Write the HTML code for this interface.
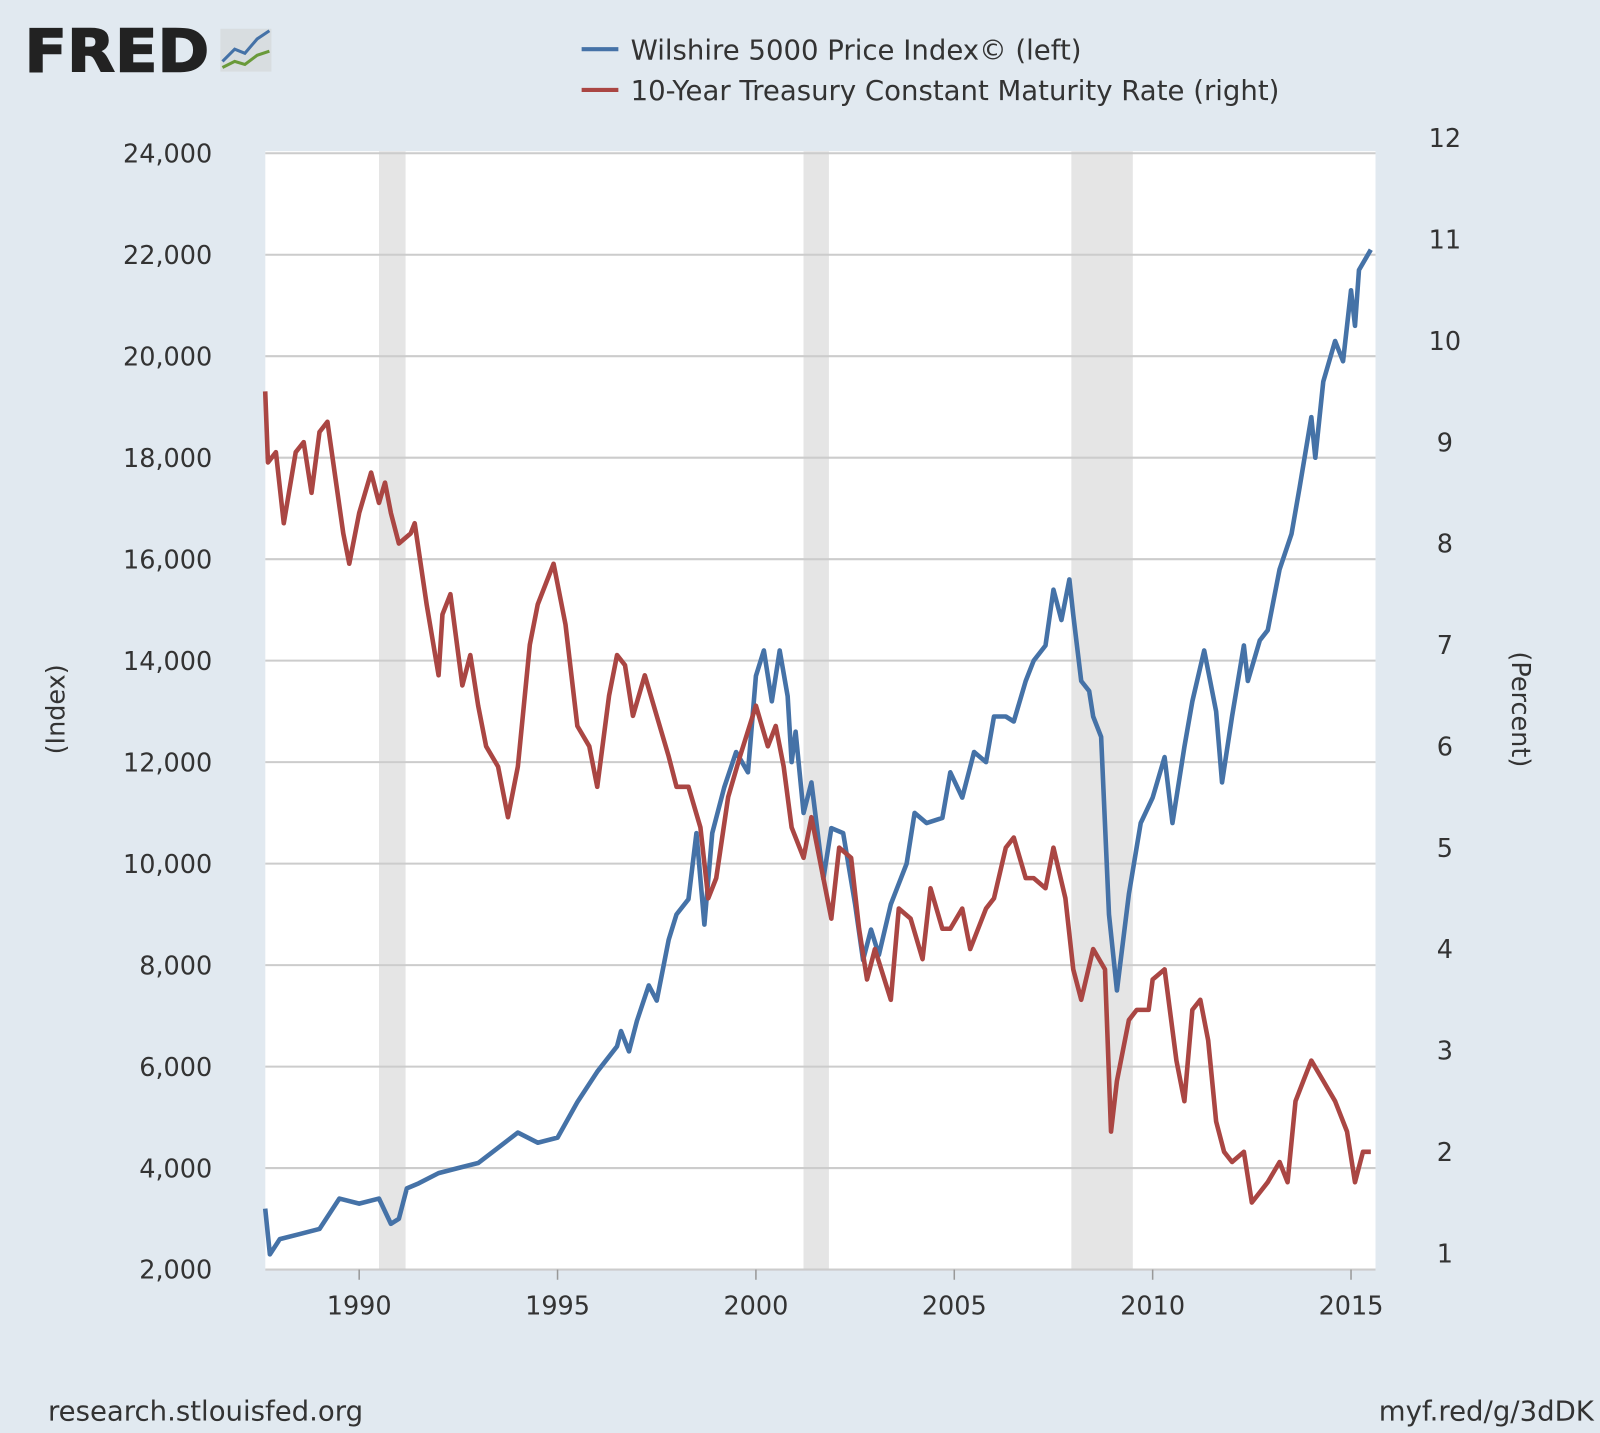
<!DOCTYPE html>
<html><head><meta charset="utf-8"><style>
html,body{margin:0;padding:0;background:#e1e9f0;}
svg{display:block;font-family:"DejaVu Sans","Liberation Sans",sans-serif;}
</style></head><body>
<svg id="chart" width="1600" height="1433" viewBox="0 0 1568 1404" xmlns="http://www.w3.org/2000/svg">
<rect x="0" y="0" width="1568" height="1404" fill="#e1e9f0"/>
<g>
<text x="24" y="70" font-size="58" font-weight="bold" fill="#222" stroke="#222" stroke-width="1.5" textLength="181" lengthAdjust="spacingAndGlyphs">FRED</text>
<rect x="216" y="28" width="50" height="42" fill="#d8dde0"/>
<polyline points="218,60 230,48 240,52 252,38 264,30" fill="none" stroke="#4572a7" stroke-width="3"/>
<polyline points="218,66 230,60 240,63 252,54 264,50" fill="none" stroke="#6a9a3a" stroke-width="3"/>
</g>
<g>
<line x1="570" y1="48" x2="606" y2="48" stroke="#4572a7" stroke-width="4"/>
<text x="618" y="58" font-size="27" fill="#333">Wilshire 5000 Price Index© (left)</text>
<line x1="570" y1="88" x2="606" y2="88" stroke="#aa4643" stroke-width="4"/>
<text x="618" y="98" font-size="27" fill="#333">10-Year Treasury Constant Maturity Rate (right)</text>
</g>
<rect x="260" y="148" width="1088" height="1096" fill="#fff"/>
<g id="bands"></g>
<g id="grid"></g>
<g id="series"></g>
<g id="axes"></g>
<text transform="translate(63,695) rotate(-90)" text-anchor="middle" font-size="25" fill="#333">(Index)</text>
<text transform="translate(1482,695) rotate(90)" text-anchor="middle" font-size="25" fill="#333">(Percent)</text>
<text x="47" y="1392" font-size="27" fill="#333">research.stlouisfed.org</text>
<text x="1562" y="1392" text-anchor="end" font-size="27" fill="#333">myf.red/g/3dDK</text>
</svg>
<script>
const wilDates=[1987.63,1987.75,1988.0,1988.5,1989.0,1989.5,1990.0,1990.5,1990.8,1991.0,1991.2,1991.5,1992.0,1992.5,1993.0,1993.5,1994.0,1994.5,1995.0,1995.5,1996.0,1996.5,1996.6,1996.8,1997.0,1997.3,1997.5,1997.8,1998.0,1998.3,1998.5,1998.7,1998.9,1999.2,1999.5,1999.8,2000.0,2000.2,2000.4,2000.6,2000.8,2000.9,2001.0,2001.2,2001.4,2001.7,2001.9,2002.2,2002.5,2002.7,2002.9,2003.1,2003.4,2003.8,2004.0,2004.3,2004.7,2004.9,2005.2,2005.5,2005.8,2006.0,2006.3,2006.5,2006.8,2007.0,2007.3,2007.5,2007.7,2007.9,2008.0,2008.2,2008.4,2008.5,2008.7,2008.9,2009.1,2009.4,2009.7,2010.0,2010.3,2010.5,2010.8,2011.0,2011.3,2011.6,2011.75,2012.0,2012.3,2012.4,2012.7,2012.9,2013.2,2013.5,2013.7,2014.0,2014.1,2014.3,2014.6,2014.8,2015.0,2015.1,2015.2,2015.5];
const wilValues=[3200,2300,2600,2700,2800,3400,3300,3400,2900,3000,3600,3700,3900,4000,4100,4400,4700,4500,4600,5300,5900,6400,6700,6300,6900,7600,7300,8500,9000,9300,10600,8800,10600,11500,12200,11800,13700,14200,13200,14200,13300,12000,12600,11000,11600,9700,10700,10600,9200,8100,8700,8200,9200,10000,11000,10800,10900,11800,11300,12200,12000,12900,12900,12800,13600,14000,14300,15400,14800,15600,14900,13600,13400,12900,12500,9000,7500,9400,10800,11300,12100,10800,12300,13200,14200,13000,11600,12900,14300,13600,14400,14600,15800,16500,17400,18800,18000,19500,20300,19900,21300,20600,21700,22100];
const tsyDates=[1987.63,1987.7,1987.9,1988.1,1988.4,1988.6,1988.8,1989.0,1989.2,1989.6,1989.75,1990.0,1990.3,1990.5,1990.65,1990.8,1991.0,1991.3,1991.4,1991.7,1992.0,1992.1,1992.3,1992.6,1992.8,1993.0,1993.2,1993.5,1993.75,1994.0,1994.3,1994.5,1994.9,1995.2,1995.5,1995.8,1996.0,1996.3,1996.5,1996.7,1996.9,1997.2,1997.5,1997.8,1998.0,1998.3,1998.6,1998.8,1999.0,1999.3,1999.6,2000.0,2000.3,2000.5,2000.7,2000.9,2001.2,2001.4,2001.7,2001.9,2002.1,2002.4,2002.6,2002.8,2003.0,2003.4,2003.6,2003.9,2004.2,2004.4,2004.7,2004.9,2005.2,2005.4,2005.8,2006.0,2006.3,2006.5,2006.8,2007.0,2007.3,2007.5,2007.8,2008.0,2008.2,2008.5,2008.8,2008.95,2009.1,2009.4,2009.6,2009.9,2010.0,2010.3,2010.6,2010.8,2011.0,2011.2,2011.4,2011.6,2011.8,2012.0,2012.3,2012.5,2012.9,2013.2,2013.4,2013.6,2013.8,2014.0,2014.3,2014.6,2014.9,2015.1,2015.3,2015.5];
const tsyValues=[9.5,8.8,8.9,8.2,8.9,9.0,8.5,9.1,9.2,8.1,7.8,8.3,8.7,8.4,8.6,8.3,8.0,8.1,8.2,7.4,6.7,7.3,7.5,6.6,6.9,6.4,6.0,5.8,5.3,5.8,7.0,7.4,7.8,7.2,6.2,6.0,5.6,6.5,6.9,6.8,6.3,6.7,6.3,5.9,5.6,5.6,5.2,4.5,4.7,5.5,5.9,6.4,6.0,6.2,5.8,5.2,4.9,5.3,4.7,4.3,5.0,4.9,4.2,3.7,4.0,3.5,4.4,4.3,3.9,4.6,4.2,4.2,4.4,4.0,4.4,4.5,5.0,5.1,4.7,4.7,4.6,5.0,4.5,3.8,3.5,4.0,3.8,2.2,2.7,3.3,3.4,3.4,3.7,3.8,2.9,2.5,3.4,3.5,3.1,2.3,2.0,1.9,2.0,1.5,1.7,1.9,1.7,2.5,2.7,2.9,2.7,2.5,2.2,1.7,2.0,2.0];
const leftTicks=[2000,4000,6000,8000,10000,12000,14000,16000,18000,20000,22000,24000];
const rightTicks=[1,2,3,4,5,6,7,8,9,10,11,12];
const xTicks=[1990,1995,2000,2005,2010,2015];
const recessions=[[1990.5,1991.17],[2001.2,2001.84],[2007.95,2009.5]];

const NS="http://www.w3.org/2000/svg";
const X0=260,X1=1348,Y0=148,Y1=1244;
function xs(t){return 352+(t-1990)*(1324-352)/25;}
function yl(v){return 1244-(v-2000)*(1244-150)/22000;}
function yr(v){return 1228-(v-1)*(1228-135)/11;}
function mk(tag,attrs,parent){const e=document.createElementNS(NS,tag);for(const k in attrs)e.setAttribute(k,attrs[k]);parent.appendChild(e);return e;}
const bands=document.getElementById('bands'),grid=document.getElementById('grid'),series=document.getElementById('series'),axes=document.getElementById('axes');
recessions.forEach(r=>{const e=mk('rect',{x:xs(r[0]),y:Y0,width:xs(r[1])-xs(r[0]),height:Y1-Y0,fill:'#e5e5e5'},bands);

});
leftTicks.forEach(v=>{const y=yl(v);
const l=mk('line',{x1:X0,x2:X1,y1:y,y2:y,stroke:'#cccccc','stroke-width':2},grid);


const t=mk('text',{x:208,y:y+9,'text-anchor':'end','font-size':25,fill:'#333'},axes);
t.textContent=v.toLocaleString('en-US');

});
rightTicks.forEach(v=>{const t=mk('text',{x:1416,y:yr(v)+9,'text-anchor':'middle','font-size':25,fill:'#333'},axes);
t.textContent=v;

});
xTicks.forEach(v=>{const x=xs(v);
mk('line',{x1:x,x2:x,y1:Y1,y2:Y1+10,stroke:'#999','stroke-width':1.5},axes);
const t=mk('text',{x:x,y:1288,'text-anchor':'middle','font-size':25,fill:'#333'},axes);
t.textContent=v;

});
const wp=mk('polyline',{points:wilDates.map((d,i)=>xs(d).toFixed(1)+','+yl(wilValues[i]).toFixed(1)).join(' '),fill:'none',stroke:'#4572a7','stroke-width':4.5,'stroke-linejoin':'round'},series);


const tp=mk('polyline',{points:tsyDates.map((d,i)=>xs(d).toFixed(1)+','+yr(tsyValues[i]).toFixed(1)).join(' '),fill:'none',stroke:'#aa4643','stroke-width':4.5,'stroke-linejoin':'round'},series);


</script>
</body></html>
